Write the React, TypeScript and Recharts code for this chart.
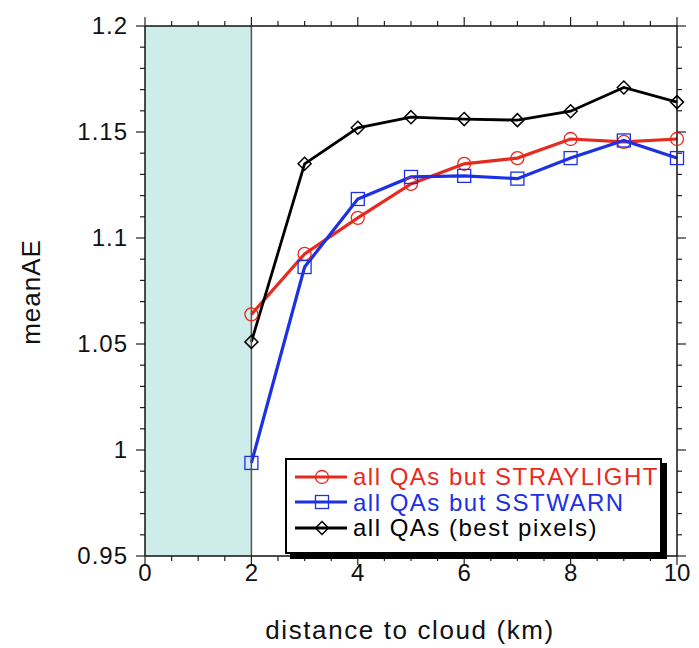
import { Legend, Line, LineChart, ReferenceArea, ReferenceLine, XAxis, YAxis } from "recharts"

// distance to cloud (km)
const distances = [2, 3, 4, 5, 6, 7, 8, 9, 10]
const straylight = [1.064, 1.0925, 1.1095, 1.1255, 1.135, 1.1377, 1.1467, 1.1453, 1.1467]
const sstwarn = [0.9939, 1.0863, 1.1184, 1.1288, 1.1293, 1.128, 1.1377, 1.146, 1.1377]
const best = [1.051, 1.135, 1.152, 1.157, 1.1561, 1.1556, 1.1598, 1.171, 1.1641]

const xMajor = [0, 2, 4, 6, 8, 10]
const yMajor = [0.95, 1, 1.05, 1.1, 1.15, 1.2]
const yLabels = ["0.95", "1", "1.05", "1.1", "1.15", "1.2"]
const xMinor = Array.from({ length: 21 }, (_, i) => i * 0.5)
const yMinor = Array.from({ length: 26 }, (_, i) => Math.round((0.95 + i * 0.01) * 100) / 100)

const series = [
    { key: "straylight", name: "all QAs but STRAYLIGHT", color: "#e82a1e", marker: "circle", width: 3.2 },
    { key: "sstwarn", name: "all QAs but SSTWARN", color: "#1c30e4", marker: "square", width: 3.2 },
    { key: "best", name: "all QAs (best pixels)", color: "#000000", marker: "diamond", width: 2.8 },
]

const data = distances.map((d, i) => ({
    d,
    straylight: straylight[i],
    sstwarn: sstwarn[i],
    best: best[i],
}))

const FONT = "'Liberation Sans', Arial, Helvetica, sans-serif"

function Marker({ cx, cy, kind, color }: any) {
    if (cx == null || cy == null) return null
    const s = 6.5
    if (kind === "circle") return <circle cx={cx} cy={cy} r={s} fill="none" stroke={color} strokeWidth={1.3} />
    if (kind === "square")
        return <rect x={cx - s} y={cy - s} width={2 * s} height={2 * s} fill="none" stroke={color} strokeWidth={1.3} />
    return (
        <polygon
            points={`${cx},${cy - s} ${cx + s},${cy} ${cx},${cy + s} ${cx - s},${cy}`}
            fill="none"
            stroke={color}
            strokeWidth={1.5}
        />
    )
}

function isMajor(list: number[], v: number) {
    return list.some((m) => Math.abs(m - v) < 1e-6)
}

function makeTick(side: string, majors: number[], labels: string[] | null) {
    return (props: any) => {
        const { x, y, payload } = props
        const v = payload.value
        const major = isMajor(majors, v)
        const len = major ? 9 : 5
        const idx = majors.findIndex((m) => Math.abs(m - v) < 1e-6)
        const stroke = { stroke: "#222", strokeWidth: 1.2 }
        if (side === "bottom") {
            return (
                <g>
                    <line x1={x} y1={y} x2={x} y2={y + len} {...stroke} />
                    {major && labels && (
                        <text x={x} y={y + 25} textAnchor="middle" fontSize={24} fill="#111" fontFamily={FONT}>
                            {labels[idx]}
                        </text>
                    )}
                </g>
            )
        }
        if (side === "top") return <line x1={x} y1={y} x2={x} y2={y - len} {...stroke} />
        if (side === "left") {
            return (
                <g>
                    <line x1={x - len} y1={y} x2={x} y2={y} {...stroke} />
                    {major && labels && (
                        <text x={x - 17} y={y + 8} textAnchor="end" fontSize={24} fill="#111" fontFamily={FONT} letterSpacing={1}>
                            {labels[idx]}
                        </text>
                    )}
                </g>
            )
        }
        return <line x1={x} y1={y} x2={x + len} y2={y} {...stroke} />
    }
}

function LegendBox() {
    return (
        <div
            style={{
                width: 373,
                height: 88,
                border: "2px solid #000",
                background: "#fff",
                boxShadow: "5px 5px 0 #000",
                fontFamily: FONT,
                boxSizing: "content-box",
                paddingTop: 4,
            }}
        >
            {series.map((s) => (
                <div key={s.key} style={{ display: "flex", alignItems: "center", height: 25.5 }}>
                    <svg width={66} height={20} style={{ flex: "none" }}>
                        <line x1={8} y1={10} x2={60} y2={10} stroke={s.color} strokeWidth={s.width} />
                        <Marker cx={35} cy={10} kind={s.marker} color={s.color} />
                    </svg>
                    <span style={{ color: s.color, fontSize: 24, letterSpacing: 1.5, lineHeight: "25px", whiteSpace: "nowrap" }}>
                        {s.name}
                    </span>
                </div>
            ))}
        </div>
    )
}

export default function App() {
    return (
        <div style={{ position: "absolute", left: 0, top: 0 }}>
            <LineChart width={699} height={648} data={data} margin={{ top: 0, right: 0, bottom: 0, left: 0 }}>
                <XAxis
                    xAxisId="bottom"
                    dataKey="d"
                    type="number"
                    domain={[0, 10]}
                    ticks={xMinor}
                    interval={0}
                    height={92}
                    tickSize={0}
                    tickMargin={0}
                    axisLine={{ stroke: "#111", strokeWidth: 1.5 }}
                    tickLine={false}
                    tick={makeTick("bottom", xMajor, xMajor.map(String))}
                    label={() => (
                        <text x={410} y={639} textAnchor="middle" fontSize={26} fill="#111" fontFamily={FONT} letterSpacing={1.6}>
                            distance to cloud (km)
                        </text>
                    )}
                />
                <XAxis
                    xAxisId="top"
                    orientation="top"
                    dataKey="d"
                    type="number"
                    domain={[0, 10]}
                    ticks={xMinor}
                    interval={0}
                    height={26}
                    tickSize={0}
                    tickMargin={0}
                    axisLine={{ stroke: "#111", strokeWidth: 1.5 }}
                    tickLine={false}
                    tick={makeTick("top", xMajor, null)}
                />
                <YAxis
                    yAxisId="left"
                    type="number"
                    domain={[0.95, 1.2]}
                    allowDataOverflow
                    ticks={yMinor}
                    interval={0}
                    width={145}
                    tickSize={0}
                    tickMargin={0}
                    axisLine={{ stroke: "#111", strokeWidth: 1.5 }}
                    tickLine={false}
                    tick={makeTick("left", yMajor, yLabels)}
                    label={() => (
                        <text
                            x={40}
                            y={292}
                            transform="rotate(-90, 40, 292)"
                            textAnchor="middle"
                            fontSize={26}
                            fill="#111"
                            fontFamily={FONT}
                            letterSpacing={1}
                        >
                            meanAE
                        </text>
                    )}
                />
                <YAxis
                    yAxisId="right"
                    orientation="right"
                    type="number"
                    domain={[0.95, 1.2]}
                    allowDataOverflow
                    ticks={yMinor}
                    interval={0}
                    width={22}
                    tickSize={0}
                    tickMargin={0}
                    axisLine={{ stroke: "#111", strokeWidth: 1.5 }}
                    tickLine={false}
                    tick={makeTick("right", yMajor, null)}
                />
                {series.map((s) => (
                    <Line
                        key={s.key}
                        xAxisId="bottom"
                        yAxisId="left"
                        dataKey={s.key}
                        name={s.name}
                        stroke={s.color}
                        strokeWidth={s.width}
                        isAnimationActive={false}
                        dot={(p: any) => <Marker key={`${s.key}-${p.index}`} cx={p.cx} cy={p.cy} kind={s.marker} color={s.color} />}
                        activeDot={false}
                    />
                ))}
                <ReferenceArea
                    xAxisId="bottom"
                    yAxisId="left"
                    x1={0}
                    x2={2}
                    y1={0.95}
                    y2={1.2}
                    fill="#cdecea"
                    fillOpacity={1}
                    stroke="none"
                />
                <ReferenceLine xAxisId="bottom" yAxisId="left" x={2} stroke="#555" strokeWidth={1.5} />
                <Legend
                    layout="vertical"
                    align="center"
                    verticalAlign="middle"
                    content={() => <LegendBox />}
                    wrapperStyle={{ left: 285, top: 458, width: 380, height: 96 }}
                />
            </LineChart>
        </div>
    )
}
